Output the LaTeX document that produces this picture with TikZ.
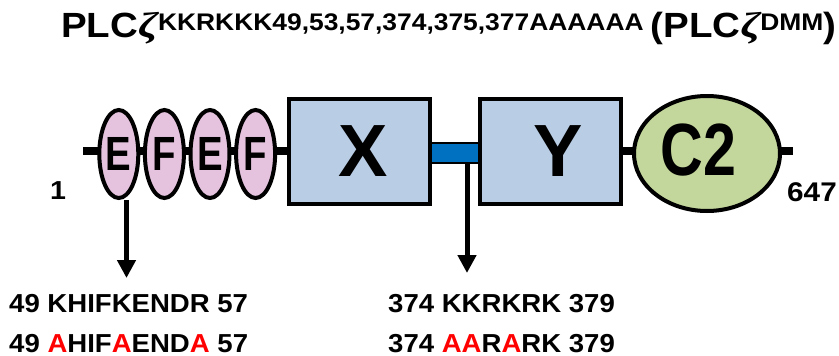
\documentclass[tikz,border=0pt]{standalone}
\usepackage{fontspec}
\usetikzlibrary{shapes.geometric,arrows.meta}
\newfontfamily\widesans{Liberation Sans}[FakeStretch=1.1]
\newfontfamily\seqsans{Liberation Sans}[FakeStretch=1.06]
\newfontfamily\narrowsans{Liberation Sans}[FakeStretch=0.8]
\newfontfamily\plainsans{Liberation Sans}
\newfontfamily\zetafont{Liberation Serif}[FakeStretch=1.25]
\definecolor{efpink}{HTML}{E5C3DE}
\definecolor{boxblue}{HTML}{B9CDE5}
\definecolor{linkblue}{HTML}{0070C0}
\definecolor{ctwogreen}{HTML}{C3D69B}
\definecolor{mutred}{HTML}{FF0000}
\newcommand\mut[1]{\textcolor{mutred}{#1}}
\newcommand\zetachar{{\zetafont\itshape\fontsize{36}{36}\selectfont ζ}}

\begin{document}
\begin{tikzpicture}[x=1pt, y=-1pt,
    backbone/.style={line width=8pt},
    efdom/.style={ellipse, draw, line width=4pt, fill=efpink, minimum width=39pt, minimum height=88pt, inner sep=0pt, font=\narrowsans\bfseries\fontsize{48}{48}\selectfont},
    catbox/.style={draw, line width=4pt, fill=boxblue, minimum width=141pt, minimum height=105pt, inner sep=0pt},
    linker/.style={draw, line width=1.2pt, fill=linkblue, minimum width=49pt, minimum height=20pt, inner sep=0pt},
    ctwo/.style={ellipse, draw, line width=4pt, fill=ctwogreen, minimum width=146pt, minimum height=115pt, inner sep=0pt},
    bigletter/.style={inner sep=0pt, font=\plainsans\bfseries\fontsize{74}{74}\selectfont},
    pointer/.style={line width=5pt, -{Triangle[width=18pt, length=18pt]}},
    seqtext/.style={anchor=base west, inner sep=0pt, font=\seqsans\bfseries\fontsize{26}{26}\selectfont}]
  \useasboundingbox (0,0) rectangle (839,356);

  % title
  \def\supsize{\fontsize{24}{24}\selectfont}
  \node[anchor=base west, inner sep=0pt, font=\widesans\bfseries\fontsize{35}{35}\selectfont] (title) at (61,37)
    {PLC\zetachar\raisebox{6pt}{\supsize KKRKKK49,53,57,374,375,377AAAAAA}\hspace{7pt}(PLC\zetachar\raisebox{6pt}{\supsize DMM})};

  % backbone
  \coordinate (nterm) at (83,151);
  \coordinate (cterm) at (793,151);
  \draw[backbone] (nterm) -- (cterm);

  % domains
  \foreach \l [count=\i] in {E,F,E,F}
    \node[efdom] (ef\i) at ({118.8+45.6*(\i-1)},154) {\l};
  \node[linker] (lnk) at (454.5,153) {};
  \node[catbox] (xbox) at (359.5,151.5) {};
  \node[catbox] (ybox) at (550,151.5) {};
  \node[ctwo] (c2) at (707,153.5) {};
  \node[bigletter] (xlab) at ([xshift=4pt]xbox.center) {X};
  \node[bigletter] (ylab) at ([xshift=8.5pt]ybox.center) {Y};
  \node[bigletter, font=\narrowsans\bfseries\fontsize{74}{74}\selectfont] (c2lab) at (698.5,150) {C2};

  % residue numbers
  \node[inner sep=0pt, font=\widesans\bfseries\fontsize{26}{26}\selectfont] (nnum) at (58,191) {1};
  \node[inner sep=0pt, font=\widesans\bfseries\fontsize{27}{27}\selectfont] (cnum) at (812,192) {647};

  % mutation sites
  \coordinate (mone) at (126.5,278);
  \coordinate (mtwo) at (467,273);
  \draw[pointer] (ef1.south -| mone) -- (mone);
  \draw[pointer] (lnk.south -| mtwo) -- (mtwo);

  \node[seqtext] (wtone) at (9,312) {49 KHIFKENDR 57};
  \node[seqtext] (mutone) at (9,352) {49 \mut{A}HIF\mut{A}END\mut{A} 57};
  \node[seqtext] (wttwo) at (388,312) {374 KKRKRK 379};
  \node[seqtext] (muttwo) at (388,352) {374 \mut{AA}R\mut{A}RK 379};
\end{tikzpicture}
\end{document}
